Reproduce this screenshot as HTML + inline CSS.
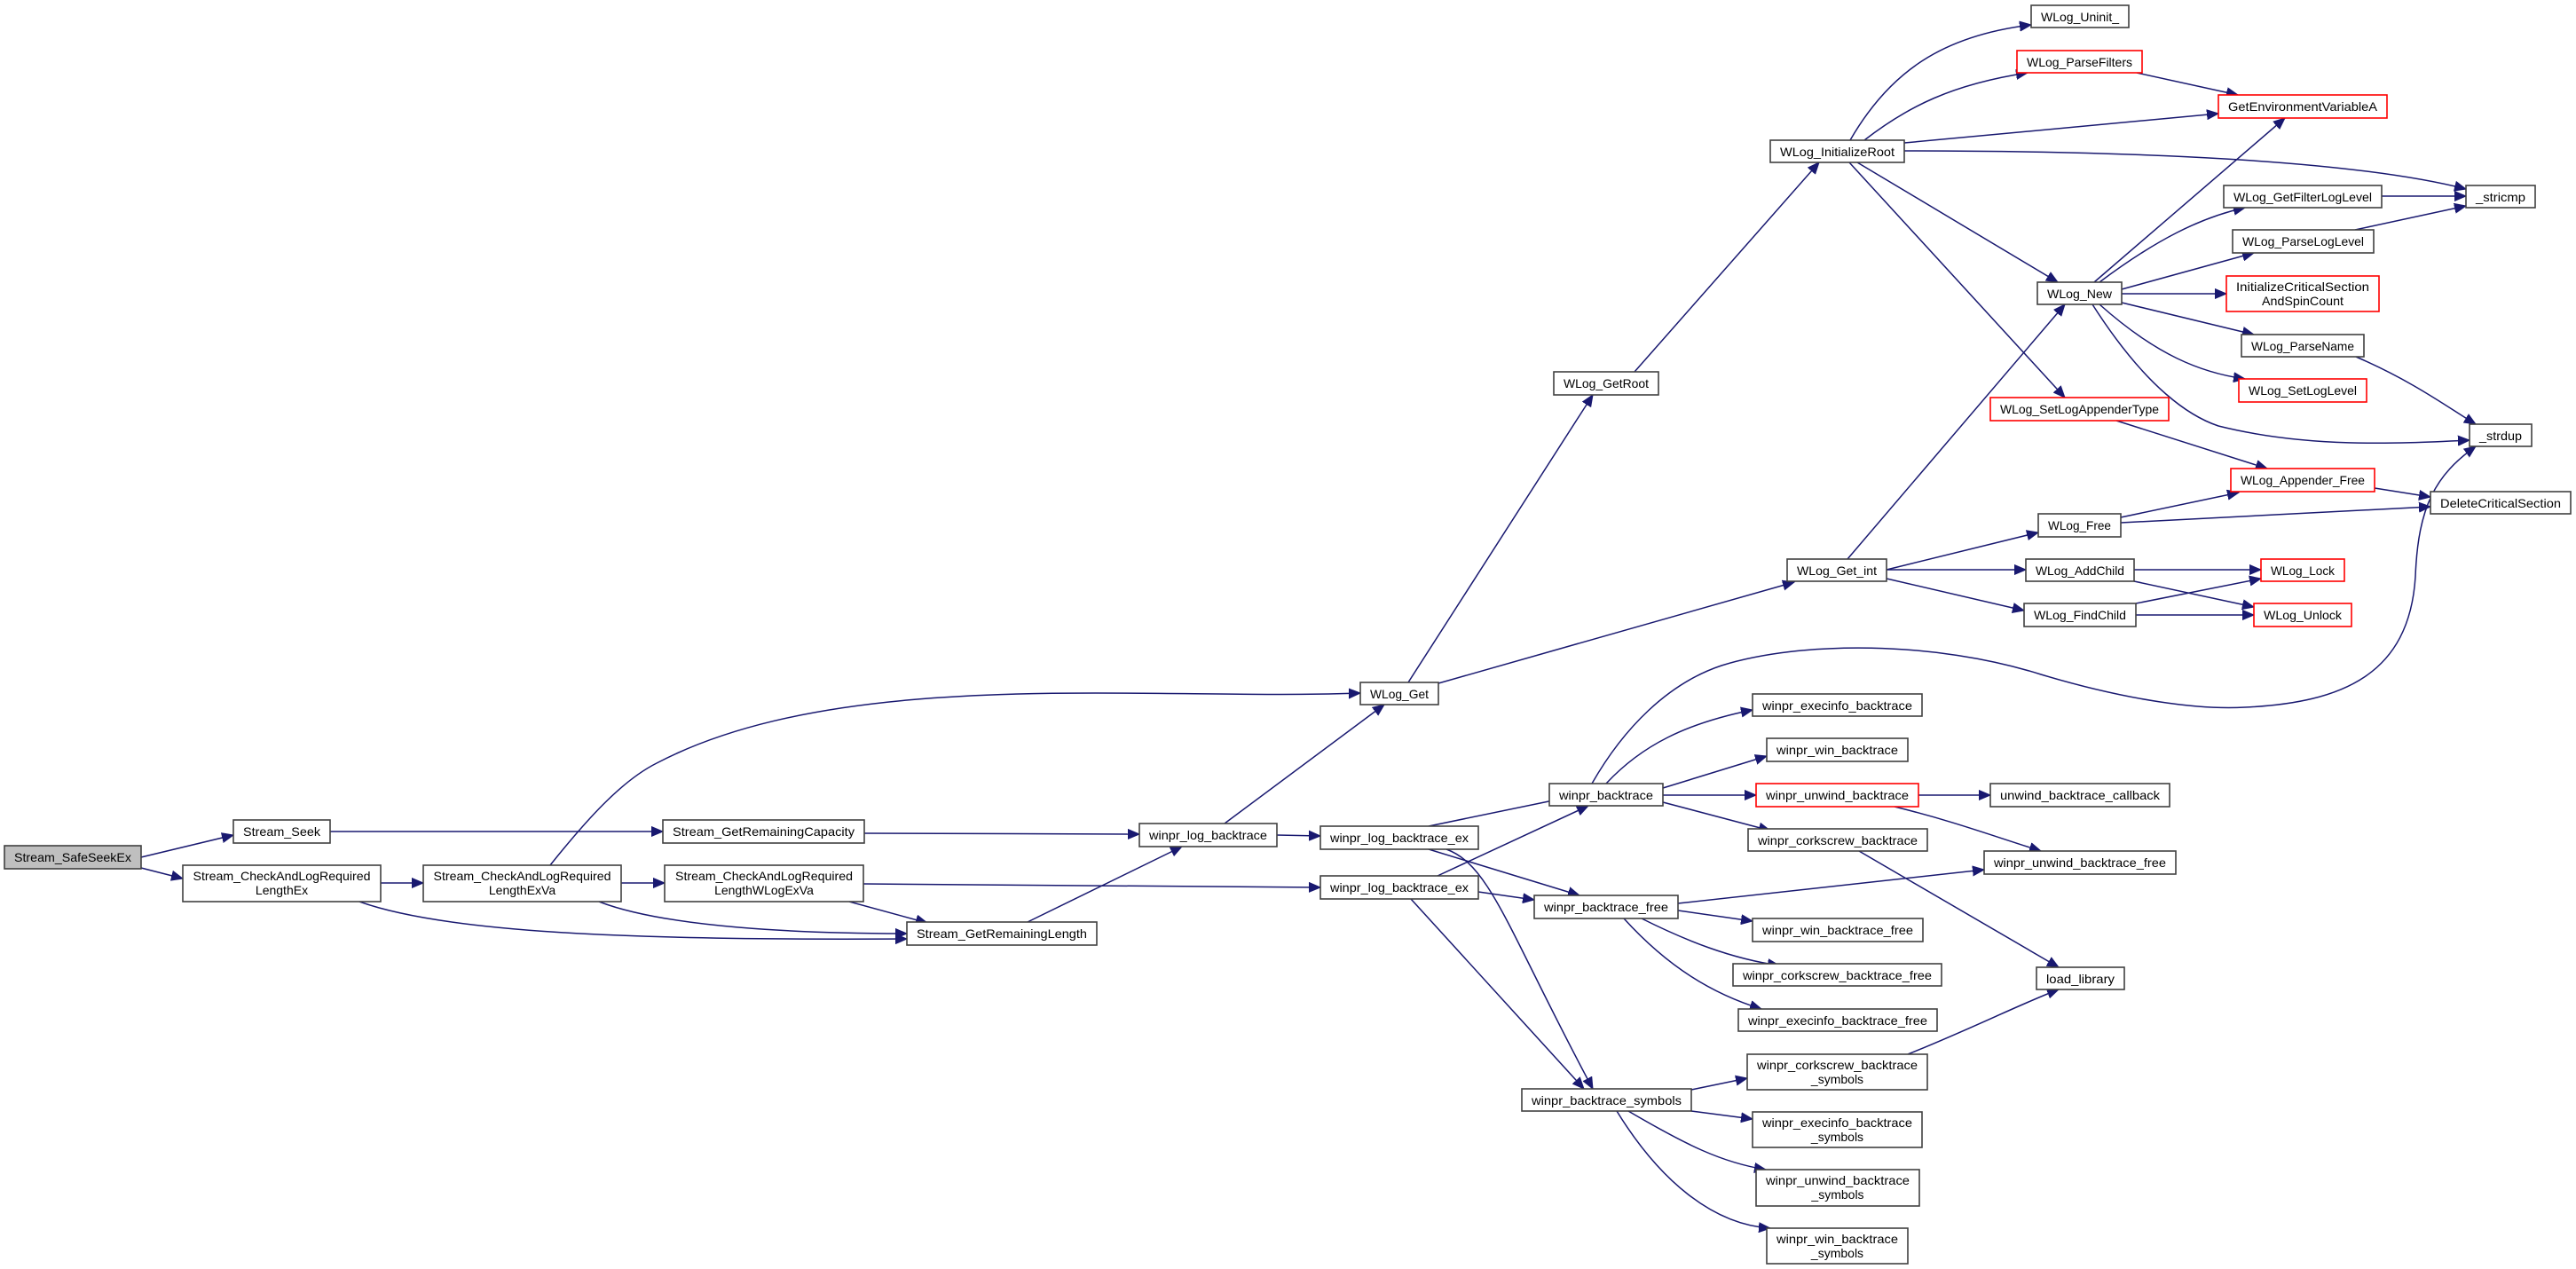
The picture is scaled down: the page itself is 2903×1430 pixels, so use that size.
<!DOCTYPE html>
<html><head><meta charset="utf-8"><style>
html,body{margin:0;padding:0;background:#fff;}
svg{display:block}
text{font-family:"Liberation Sans",sans-serif;font-size:14px;fill:#000;}
.n{fill:#fff;stroke:#404040;stroke-width:1.6}
.r{fill:#fff;stroke:#ff0000;stroke-width:1.6}
.e{fill:none;stroke:#191970;stroke-width:1.5}
</style></head><body>
<svg width="2903" height="1430" viewBox="0 0 2903 1430" xmlns="http://www.w3.org/2000/svg">
<defs><marker id="a" markerUnits="userSpaceOnUse" markerWidth="14" markerHeight="12" refX="13" refY="6" orient="auto"><path d="M0,0.5 L13,6 L0,11.5 Z" fill="#191970" stroke="#191970"/></marker></defs>
<g marker-end="url(#a)">
<path class="e" d="M159,966 L263,941"/>
<path class="e" d="M159,978 L206,990"/>
<path class="e" d="M372,937 L747,937"/>
<path class="e" d="M429,995 L477,995"/>
<path class="e" d="M405,1016 C500,1050 700,1060 1022,1058"/>
<path class="e" d="M675,1016 C750,1045 900,1052 1022,1052"/>
<path class="e" d="M620,975 C660,925 700,880 740,860 C950,750 1300,790 1533,781"/>
<path class="e" d="M700,995 L749,995"/>
<path class="e" d="M957,1016 L1045,1040"/>
<path class="e" d="M974,939 L1284,940"/>
<path class="e" d="M973,996 L1488,1000"/>
<path class="e" d="M1158,1039 L1332,954"/>
<path class="e" d="M1380,928 L1560,794"/>
<path class="e" d="M1439,941 L1488,942"/>
<path class="e" d="M1587,769 L1795,445"/>
<path class="e" d="M1621,770 L2022,656"/>
<path class="e" d="M1842,419 L2050,183"/>
<path class="e" d="M2082,630 L2327,343"/>
<path class="e" d="M2126,642 L2297,600"/>
<path class="e" d="M2126,642 L2283,642"/>
<path class="e" d="M2126,652 L2281,688"/>
<path class="e" d="M2085,158 C2130,80 2190,40 2289,28"/>
<path class="e" d="M2101,158 C2150,120 2200,95 2285,82"/>
<path class="e" d="M2146,161 L2500,128"/>
<path class="e" d="M2146,170 C2400,170 2650,180 2779,213"/>
<path class="e" d="M2093,183 L2319,318"/>
<path class="e" d="M2084,183 L2327,448"/>
<path class="e" d="M2408,82 L2522,107"/>
<path class="e" d="M2684,221 L2779,221"/>
<path class="e" d="M2654,259 L2779,232"/>
<path class="e" d="M2360,318 L2575,133"/>
<path class="e" d="M2366,318 C2430,270 2480,245 2530,234"/>
<path class="e" d="M2391,326 L2540,285"/>
<path class="e" d="M2391,331 L2509,331"/>
<path class="e" d="M2391,341 L2540,377"/>
<path class="e" d="M2366,343 C2430,400 2480,420 2530,427"/>
<path class="e" d="M2358,343 C2420,440 2470,470 2500,480 C2600,505 2700,500 2783,496"/>
<path class="e" d="M2655,402 C2720,430 2760,460 2790,478"/>
<path class="e" d="M2385,474 L2555,528"/>
<path class="e" d="M2676,550 L2739,560"/>
<path class="e" d="M2390,583 L2523,555"/>
<path class="e" d="M2390,589 L2739,571"/>
<path class="e" d="M2405,642 L2548,642"/>
<path class="e" d="M2405,655 L2540,684"/>
<path class="e" d="M2407,680 L2548,652"/>
<path class="e" d="M2407,693 L2540,693"/>
<path class="e" d="M1794,883 C1830,820 1880,770 1940,750 C2030,722 2180,722 2300,760 C2400,790 2480,800 2530,797 C2640,792 2715,760 2722,650 C2725,570 2745,535 2790,503"/>
<path class="e" d="M1810,883 C1850,840 1900,815 1975,800"/>
<path class="e" d="M1874,888 L1991,852"/>
<path class="e" d="M1874,896 L1979,896"/>
<path class="e" d="M1874,904 L1995,936"/>
<path class="e" d="M2162,896 L2243,896"/>
<path class="e" d="M2135,909 C2200,925 2240,940 2300,959"/>
<path class="e" d="M2095,959 L2320,1090"/>
<path class="e" d="M1891,1018 L2236,980"/>
<path class="e" d="M1891,1026 L1975,1038"/>
<path class="e" d="M1850,1035 C1900,1060 1950,1080 2005,1088"/>
<path class="e" d="M1830,1035 C1880,1090 1930,1120 1985,1137"/>
<path class="e" d="M1610,931 L1760,900"/>
<path class="e" d="M1610,957 L1780,1009"/>
<path class="e" d="M1630,957 C1680,975 1700,1050 1795,1227"/>
<path class="e" d="M1620,987 L1790,908"/>
<path class="e" d="M1666,1005 L1729,1014"/>
<path class="e" d="M1590,1013 L1785,1227"/>
<path class="e" d="M1906,1228 L1969,1215"/>
<path class="e" d="M1906,1252 L1975,1261"/>
<path class="e" d="M1835,1252 C1900,1290 1940,1310 1990,1318"/>
<path class="e" d="M1822,1252 C1870,1330 1930,1380 1995,1384"/>
<path class="e" d="M2150,1188 C2220,1160 2280,1130 2320,1115"/>
</g>
<g>
<rect x="5" y="953" width="154" height="26" fill="#bfbfbf" stroke="#404040" stroke-width="1.6"/><text x="82" y="971" text-anchor="middle" textLength="132" lengthAdjust="spacingAndGlyphs">Stream_SafeSeekEx</text>
<rect class="n" x="263" y="924" width="109" height="26"/><text x="317.5" y="942" text-anchor="middle" textLength="87" lengthAdjust="spacingAndGlyphs">Stream_Seek</text>
<rect class="n" x="206" y="975" width="223" height="41"/><text x="317.5" y="992" text-anchor="middle" textLength="200" lengthAdjust="spacingAndGlyphs">Stream_CheckAndLogRequired</text><text x="317.5" y="1008" text-anchor="middle">LengthEx</text>
<rect class="n" x="477" y="975" width="223" height="41"/><text x="588.5" y="992" text-anchor="middle" textLength="200" lengthAdjust="spacingAndGlyphs">Stream_CheckAndLogRequired</text><text x="588.5" y="1008" text-anchor="middle">LengthExVa</text>
<rect class="n" x="749" y="975" width="224" height="41"/><text x="861" y="992" text-anchor="middle" textLength="200" lengthAdjust="spacingAndGlyphs">Stream_CheckAndLogRequired</text><text x="861" y="1008" text-anchor="middle">LengthWLogExVa</text>
<rect class="n" x="747" y="924" width="227" height="26"/><text x="860.5" y="942" text-anchor="middle" textLength="205" lengthAdjust="spacingAndGlyphs">Stream_GetRemainingCapacity</text>
<rect class="n" x="1022" y="1039" width="214" height="26"/><text x="1129" y="1057" text-anchor="middle" textLength="192" lengthAdjust="spacingAndGlyphs">Stream_GetRemainingLength</text>
<rect class="n" x="1284" y="928" width="155" height="26"/><text x="1361.5" y="946" text-anchor="middle" textLength="133" lengthAdjust="spacingAndGlyphs">winpr_log_backtrace</text>
<rect class="n" x="1488" y="931" width="178" height="26"/><text x="1577" y="949" text-anchor="middle" textLength="156" lengthAdjust="spacingAndGlyphs">winpr_log_backtrace_ex</text>
<rect class="n" x="1488" y="987" width="178" height="26"/><text x="1577" y="1005" text-anchor="middle" textLength="156" lengthAdjust="spacingAndGlyphs">winpr_log_backtrace_ex</text>
<rect class="n" x="1533" y="769" width="88" height="25"/><text x="1577" y="787" text-anchor="middle" textLength="66" lengthAdjust="spacingAndGlyphs">WLog_Get</text>
<rect class="n" x="1751" y="419" width="118" height="26"/><text x="1810" y="437" text-anchor="middle" textLength="96" lengthAdjust="spacingAndGlyphs">WLog_GetRoot</text>
<rect class="n" x="2014" y="630" width="112" height="25"/><text x="2070" y="648" text-anchor="middle" textLength="90" lengthAdjust="spacingAndGlyphs">WLog_Get_int</text>
<rect class="n" x="1995" y="158" width="151" height="25"/><text x="2070.5" y="176" text-anchor="middle" textLength="129" lengthAdjust="spacingAndGlyphs">WLog_InitializeRoot</text>
<rect class="n" x="2289" y="6" width="110" height="25"/><text x="2344" y="24" text-anchor="middle" textLength="88" lengthAdjust="spacingAndGlyphs">WLog_Uninit_</text>
<rect class="r" x="2273" y="57" width="141" height="25"/><text x="2343.5" y="75" text-anchor="middle" textLength="119" lengthAdjust="spacingAndGlyphs">WLog_ParseFilters</text>
<rect class="r" x="2500" y="107" width="190" height="26"/><text x="2595" y="125" text-anchor="middle" textLength="168" lengthAdjust="spacingAndGlyphs">GetEnvironmentVariableA</text>
<rect class="n" x="2779" y="209" width="78" height="25"/><text x="2818" y="227" text-anchor="middle" textLength="56" lengthAdjust="spacingAndGlyphs">_stricmp</text>
<rect class="n" x="2506" y="209" width="178" height="25"/><text x="2595" y="227" text-anchor="middle" textLength="156" lengthAdjust="spacingAndGlyphs">WLog_GetFilterLogLevel</text>
<rect class="n" x="2516" y="259" width="159" height="26"/><text x="2595.5" y="277" text-anchor="middle" textLength="137" lengthAdjust="spacingAndGlyphs">WLog_ParseLogLevel</text>
<rect class="r" x="2509" y="311" width="172" height="40"/><text x="2595" y="328" text-anchor="middle" textLength="150" lengthAdjust="spacingAndGlyphs">InitializeCriticalSection</text><text x="2595" y="344" text-anchor="middle" textLength="92" lengthAdjust="spacingAndGlyphs">AndSpinCount</text>
<rect class="n" x="2296" y="318" width="95" height="25"/><text x="2343.5" y="336" text-anchor="middle" textLength="73" lengthAdjust="spacingAndGlyphs">WLog_New</text>
<rect class="n" x="2526" y="377" width="138" height="25"/><text x="2595" y="395" text-anchor="middle" textLength="116" lengthAdjust="spacingAndGlyphs">WLog_ParseName</text>
<rect class="r" x="2523" y="427" width="144" height="26"/><text x="2595" y="445" text-anchor="middle" textLength="122" lengthAdjust="spacingAndGlyphs">WLog_SetLogLevel</text>
<rect class="r" x="2243" y="448" width="201" height="26"/><text x="2343.5" y="466" text-anchor="middle" textLength="179" lengthAdjust="spacingAndGlyphs">WLog_SetLogAppenderType</text>
<rect class="n" x="2783" y="478" width="70" height="25"/><text x="2818" y="496" text-anchor="middle" textLength="48" lengthAdjust="spacingAndGlyphs">_strdup</text>
<rect class="r" x="2514" y="528" width="162" height="26"/><text x="2595" y="546" text-anchor="middle" textLength="140" lengthAdjust="spacingAndGlyphs">WLog_Appender_Free</text>
<rect class="n" x="2739" y="554" width="158" height="25"/><text x="2818" y="572" text-anchor="middle" textLength="136" lengthAdjust="spacingAndGlyphs">DeleteCriticalSection</text>
<rect class="n" x="2297" y="579" width="93" height="26"/><text x="2343.5" y="597" text-anchor="middle" textLength="71" lengthAdjust="spacingAndGlyphs">WLog_Free</text>
<rect class="n" x="2283" y="630" width="122" height="25"/><text x="2344" y="648" text-anchor="middle" textLength="100" lengthAdjust="spacingAndGlyphs">WLog_AddChild</text>
<rect class="r" x="2548" y="630" width="94" height="25"/><text x="2595" y="648" text-anchor="middle" textLength="72" lengthAdjust="spacingAndGlyphs">WLog_Lock</text>
<rect class="n" x="2281" y="680" width="126" height="26"/><text x="2344" y="698" text-anchor="middle" textLength="104" lengthAdjust="spacingAndGlyphs">WLog_FindChild</text>
<rect class="r" x="2540" y="680" width="110" height="26"/><text x="2595" y="698" text-anchor="middle" textLength="88" lengthAdjust="spacingAndGlyphs">WLog_Unlock</text>
<rect class="n" x="1746" y="883" width="128" height="25"/><text x="1810" y="901" text-anchor="middle" textLength="106" lengthAdjust="spacingAndGlyphs">winpr_backtrace</text>
<rect class="n" x="1975" y="782" width="191" height="25"/><text x="2070.5" y="800" text-anchor="middle" textLength="169" lengthAdjust="spacingAndGlyphs">winpr_execinfo_backtrace</text>
<rect class="n" x="1991" y="832" width="159" height="26"/><text x="2070.5" y="850" text-anchor="middle" textLength="137" lengthAdjust="spacingAndGlyphs">winpr_win_backtrace</text>
<rect class="r" x="1979" y="883" width="183" height="26"/><text x="2070.5" y="901" text-anchor="middle" textLength="161" lengthAdjust="spacingAndGlyphs">winpr_unwind_backtrace</text>
<rect class="n" x="2243" y="883" width="202" height="26"/><text x="2344" y="901" text-anchor="middle" textLength="180" lengthAdjust="spacingAndGlyphs">unwind_backtrace_callback</text>
<rect class="n" x="1970" y="934" width="202" height="25"/><text x="2071" y="952" text-anchor="middle" textLength="180" lengthAdjust="spacingAndGlyphs">winpr_corkscrew_backtrace</text>
<rect class="n" x="2236" y="959" width="216" height="26"/><text x="2344" y="977" text-anchor="middle" textLength="194" lengthAdjust="spacingAndGlyphs">winpr_unwind_backtrace_free</text>
<rect class="n" x="1729" y="1009" width="162" height="26"/><text x="1810" y="1027" text-anchor="middle" textLength="140" lengthAdjust="spacingAndGlyphs">winpr_backtrace_free</text>
<rect class="n" x="1975" y="1035" width="192" height="26"/><text x="2071" y="1053" text-anchor="middle" textLength="170" lengthAdjust="spacingAndGlyphs">winpr_win_backtrace_free</text>
<rect class="n" x="1953" y="1086" width="235" height="25"/><text x="2070.5" y="1104" text-anchor="middle" textLength="213" lengthAdjust="spacingAndGlyphs">winpr_corkscrew_backtrace_free</text>
<rect class="n" x="1959" y="1137" width="224" height="25"/><text x="2071" y="1155" text-anchor="middle" textLength="202" lengthAdjust="spacingAndGlyphs">winpr_execinfo_backtrace_free</text>
<rect class="n" x="2295" y="1090" width="99" height="25"/><text x="2344.5" y="1108" text-anchor="middle" textLength="77" lengthAdjust="spacingAndGlyphs">load_library</text>
<rect class="n" x="1715" y="1227" width="191" height="25"/><text x="1810.5" y="1245" text-anchor="middle" textLength="169" lengthAdjust="spacingAndGlyphs">winpr_backtrace_symbols</text>
<rect class="n" x="1969" y="1188" width="203" height="40"/><text x="2070.5" y="1205" text-anchor="middle" textLength="181" lengthAdjust="spacingAndGlyphs">winpr_corkscrew_backtrace</text><text x="2070.5" y="1221" text-anchor="middle">_symbols</text>
<rect class="n" x="1975" y="1253" width="191" height="40"/><text x="2070.5" y="1270" text-anchor="middle" textLength="169" lengthAdjust="spacingAndGlyphs">winpr_execinfo_backtrace</text><text x="2070.5" y="1286" text-anchor="middle">_symbols</text>
<rect class="n" x="1979" y="1318" width="184" height="41"/><text x="2071" y="1335" text-anchor="middle" textLength="162" lengthAdjust="spacingAndGlyphs">winpr_unwind_backtrace</text><text x="2071" y="1351" text-anchor="middle">_symbols</text>
<rect class="n" x="1991" y="1384" width="159" height="40"/><text x="2070.5" y="1401" text-anchor="middle" textLength="137" lengthAdjust="spacingAndGlyphs">winpr_win_backtrace</text><text x="2070.5" y="1417" text-anchor="middle">_symbols</text>
</g>
</svg>
</body></html>
